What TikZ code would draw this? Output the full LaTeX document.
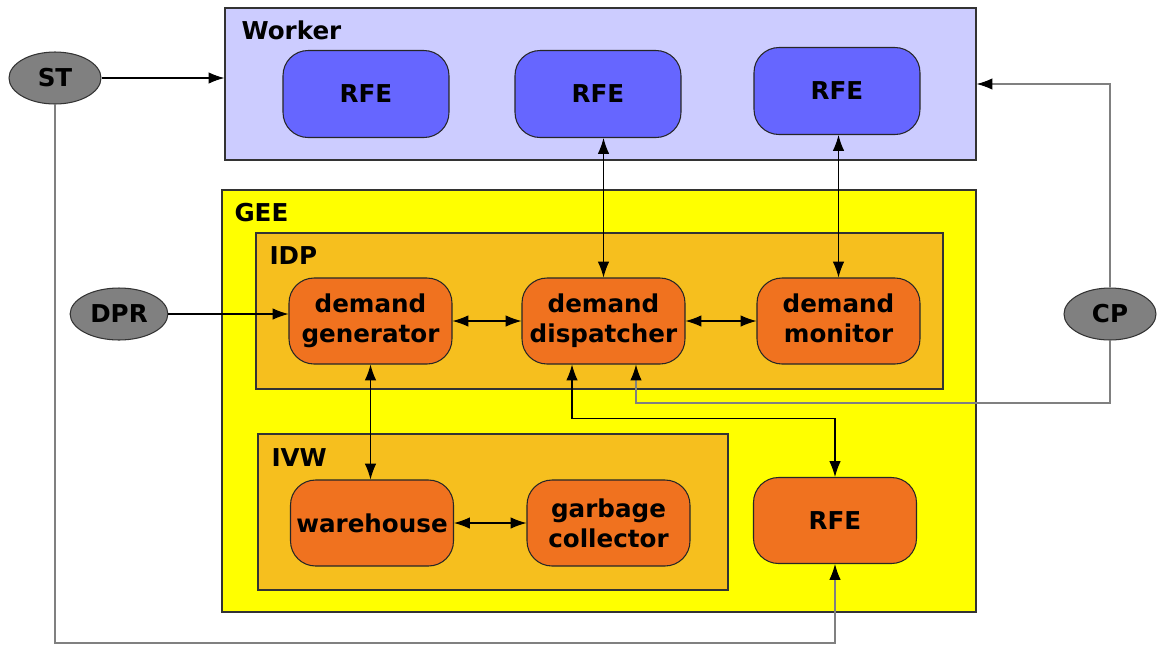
\documentclass[tikz,border=0pt]{standalone}
\usepackage{fontspec}
\setmainfont{DejaVu Sans}
\usetikzlibrary{arrows.meta, positioning, shapes.geometric}
\definecolor{workerbg}{HTML}{CCCCFF}
\definecolor{rfeblue}{HTML}{6666FF}
\definecolor{geebg}{HTML}{FFFF00}
\definecolor{groupbg}{HTML}{F6BF1E}
\definecolor{procorange}{HTML}{F0721F}
\definecolor{extgray}{HTML}{808080}
\begin{document}
\begin{tikzpicture}[
        x=0.02cm, y=-0.02cm, >={Latex[length=9pt,width=6.5pt,color=black]},
        font=\fontsize{14}{17}\selectfont\bfseries, line width=0.6pt,
        group/.style={draw=black!80, line width=0.8pt, inner sep=0pt},
        grouplabel/.style={anchor=north west, inner sep=0pt},
        rfe/.style={draw=black!85, fill=rfeblue, rounded corners=0.5cm,
            minimum width=3.32cm, minimum height=1.74cm, align=center},
        proc/.style={draw=black!85, fill=procorange, rounded corners=0.5cm,
            minimum width=3.26cm, minimum height=1.72cm, align=center, inner sep=1pt},
        ext/.style={ellipse, draw=black!80, fill=extgray,
            minimum width=1.84cm, minimum height=1.04cm},
        graylink/.style={->, draw=extgray},
        ]
        \useasboundingbox (0,0) rectangle (1157,647);

        % boxes
        \node[group, fill=workerbg, minimum width=15.02cm, minimum height=3.04cm] (worker) at (600.5,84) {};
        \node[grouplabel] (workerlbl) at (241,20) {Worker};
        \node[group, fill=geebg, minimum width=15.08cm, minimum height=8.44cm] (gee) at (599,401) {};
        \node[grouplabel] (geelbl) at (234,203) {GEE};
        \node[group, fill=groupbg, minimum width=13.74cm, minimum height=3.12cm] (idp) at (599.5,311) {};
        \node[grouplabel] (idplbl) at (269,246) {IDP};
        \node[group, fill=groupbg, minimum width=9.4cm, minimum height=3.12cm] (ivw) at (493,512) {};
        \node[grouplabel] (ivwlbl) at (271,448) {IVW};

        \node[rfe] (rfe_1) at (366,94) {RFE};
        \node[rfe] (rfe_2) at (598,94) {RFE};
        \node[rfe] (rfe_3) at (837,91) {RFE};

        \node[proc] (gen)  at (370.5,321) {demand\\generator};
        \node[proc] (disp) at (603.5,321) {demand\\dispatcher};
        \node[proc] (mon)  at (838.5,321) {demand\\monitor\vphantom{p}};
        \node[proc] (wh)   at (372,523)   {warehouse};
        \node[proc] (gc)   at (608.5,523) {garbage\\collector};
        \node[proc] (rfe_g) at (835,520.5) {RFE};

        \node[ext] (st)  at (55,78)   {ST};
        \node[ext] (dpr) at (119,314) {DPR};
        \node[ext] (cp)  at (1110,314) {CP};

        \coordinate (st_b) at (55,643);
        \coordinate (cp_b) at (1110,403);

        \draw[->] (st) -- (st.east -| worker.west);
        \draw[graylink] (st.south) -- (st_b) -| (rfe_g.south);
        \draw[graylink] (cp.north) |- (worker.east);
        \draw[graylink] (cp.south) -- (cp_b) -| ([xshift=0.65cm]disp.south);
        \draw[<->] ([xshift=-0.63cm]disp.south) -- ++(0,54) -| (rfe_g.north);

        \path[<->] (disp.north |- rfe_2.south) edge (disp.north)
                   (mon.north |- rfe_3.south) edge (mon.north)
                   (gen) edge (disp)
                   (disp) edge (mon)
                   (gen.south) edge (gen.south |- wh.north)
                   (wh) edge (gc);
        \path[->] (dpr) edge (dpr -| gen.west);
      \end{tikzpicture}
\end{document}
